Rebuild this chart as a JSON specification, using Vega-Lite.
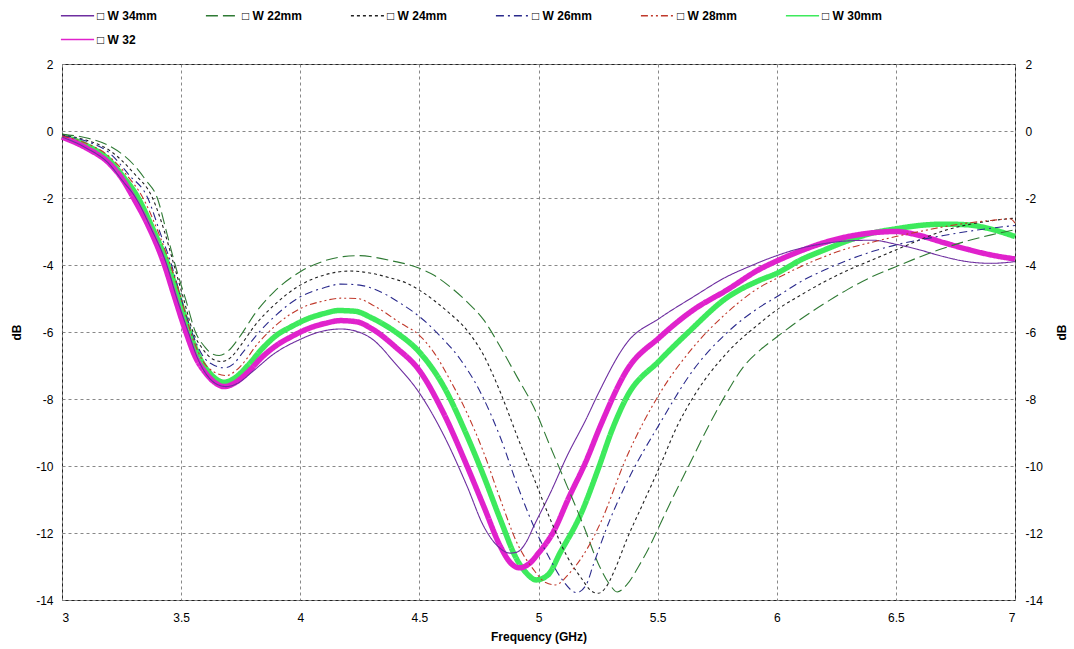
{
"$schema": "https://vega.github.io/schema/vega-lite/v6.json",
"width": 953, "height": 536,
"autosize": {"type": "none"},
"padding": {"left": 62, "top": 64, "right": 59, "bottom": 49},
"background": "white",
"config": {"view": {"stroke": "#222", "strokeWidth": 1}, "font": "Liberation Sans"},
"datasets": {"curves": [
{"series":"W 34mm","freq":3.0,"dB":-0.18},{"series":"W 34mm","freq":3.1,"dB":-0.5},{"series":"W 34mm","freq":3.2,"dB":-1.0},{"series":"W 34mm","freq":3.25,"dB":-1.45},{"series":"W 34mm","freq":3.31,"dB":-2.0},{"series":"W 34mm","freq":3.37,"dB":-2.85},{"series":"W 34mm","freq":3.44,"dB":-4.0},{"series":"W 34mm","freq":3.48,"dB":-4.95},{"series":"W 34mm","freq":3.53,"dB":-6.0},{"series":"W 34mm","freq":3.57,"dB":-6.8},{"series":"W 34mm","freq":3.61,"dB":-7.3},{"series":"W 34mm","freq":3.65,"dB":-7.56},{"series":"W 34mm","freq":3.69,"dB":-7.63},{"series":"W 34mm","freq":3.74,"dB":-7.52},{"series":"W 34mm","freq":3.8,"dB":-7.18},{"series":"W 34mm","freq":3.89,"dB":-6.65},{"series":"W 34mm","freq":4.0,"dB":-6.22},{"series":"W 34mm","freq":4.08,"dB":-6.0},{"series":"W 34mm","freq":4.17,"dB":-5.91},{"series":"W 34mm","freq":4.22,"dB":-5.95},{"series":"W 34mm","freq":4.3,"dB":-6.2},{"series":"W 34mm","freq":4.4,"dB":-6.95},{"series":"W 34mm","freq":4.5,"dB":-7.82},{"series":"W 34mm","freq":4.6,"dB":-9.05},{"series":"W 34mm","freq":4.7,"dB":-10.6},{"series":"W 34mm","freq":4.77,"dB":-11.8},{"series":"W 34mm","freq":4.83,"dB":-12.4},{"series":"W 34mm","freq":4.88,"dB":-12.6},{"series":"W 34mm","freq":4.91,"dB":-12.57},{"series":"W 34mm","freq":4.95,"dB":-12.25},{"series":"W 34mm","freq":4.98,"dB":-11.8},{"series":"W 34mm","freq":5.05,"dB":-10.8},{"series":"W 34mm","freq":5.12,"dB":-9.7},{"series":"W 34mm","freq":5.2,"dB":-8.6},{"series":"W 34mm","freq":5.25,"dB":-7.85},{"series":"W 34mm","freq":5.37,"dB":-6.33},{"series":"W 34mm","freq":5.51,"dB":-5.58},{"series":"W 34mm","freq":5.65,"dB":-4.95},{"series":"W 34mm","freq":5.79,"dB":-4.35},{"series":"W 34mm","freq":5.88,"dB":-4.06},{"series":"W 34mm","freq":6.0,"dB":-3.72},{"series":"W 34mm","freq":6.1,"dB":-3.5},{"series":"W 34mm","freq":6.2,"dB":-3.36},{"series":"W 34mm","freq":6.3,"dB":-3.28},{"series":"W 34mm","freq":6.4,"dB":-3.26},{"series":"W 34mm","freq":6.5,"dB":-3.38},{"series":"W 34mm","freq":6.6,"dB":-3.55},{"series":"W 34mm","freq":6.7,"dB":-3.75},{"series":"W 34mm","freq":6.8,"dB":-3.9},{"series":"W 34mm","freq":6.9,"dB":-3.95},{"series":"W 34mm","freq":7.0,"dB":-3.9},
{"series":"W 22mm","freq":3.0,"dB":-0.1},{"series":"W 22mm","freq":3.1,"dB":-0.2},{"series":"W 22mm","freq":3.2,"dB":-0.45},{"series":"W 22mm","freq":3.3,"dB":-1.0},{"series":"W 22mm","freq":3.35,"dB":-1.45},{"series":"W 22mm","freq":3.4,"dB":-2.0},{"series":"W 22mm","freq":3.44,"dB":-3.05},{"series":"W 22mm","freq":3.475,"dB":-4.0},{"series":"W 22mm","freq":3.52,"dB":-5.05},{"series":"W 22mm","freq":3.56,"dB":-6.0},{"series":"W 22mm","freq":3.6,"dB":-6.45},{"series":"W 22mm","freq":3.63,"dB":-6.65},{"series":"W 22mm","freq":3.66,"dB":-6.7},{"series":"W 22mm","freq":3.7,"dB":-6.55},{"series":"W 22mm","freq":3.75,"dB":-6.1},{"series":"W 22mm","freq":3.81,"dB":-5.45},{"series":"W 22mm","freq":3.89,"dB":-4.8},{"series":"W 22mm","freq":4.0,"dB":-4.2},{"series":"W 22mm","freq":4.1,"dB":-3.88},{"series":"W 22mm","freq":4.18,"dB":-3.75},{"series":"W 22mm","freq":4.25,"dB":-3.72},{"series":"W 22mm","freq":4.32,"dB":-3.78},{"series":"W 22mm","freq":4.4,"dB":-3.9},{"series":"W 22mm","freq":4.45,"dB":-3.98},{"series":"W 22mm","freq":4.5,"dB":-4.1},{"series":"W 22mm","freq":4.56,"dB":-4.3},{"series":"W 22mm","freq":4.62,"dB":-4.6},{"series":"W 22mm","freq":4.7,"dB":-5.1},{"series":"W 22mm","freq":4.77,"dB":-5.64},{"series":"W 22mm","freq":4.84,"dB":-6.45},{"series":"W 22mm","freq":4.91,"dB":-7.34},{"series":"W 22mm","freq":4.98,"dB":-8.24},{"series":"W 22mm","freq":5.05,"dB":-9.43},{"series":"W 22mm","freq":5.12,"dB":-10.6},{"series":"W 22mm","freq":5.19,"dB":-11.8},{"series":"W 22mm","freq":5.25,"dB":-12.9},{"series":"W 22mm","freq":5.3,"dB":-13.55},{"series":"W 22mm","freq":5.33,"dB":-13.76},{"series":"W 22mm","freq":5.37,"dB":-13.55},{"series":"W 22mm","freq":5.42,"dB":-13.0},{"series":"W 22mm","freq":5.47,"dB":-12.35},{"series":"W 22mm","freq":5.5,"dB":-11.9},{"series":"W 22mm","freq":5.56,"dB":-11.0},{"series":"W 22mm","freq":5.63,"dB":-10.0},{"series":"W 22mm","freq":5.72,"dB":-8.72},{"series":"W 22mm","freq":5.79,"dB":-7.82},{"series":"W 22mm","freq":5.86,"dB":-7.04},{"series":"W 22mm","freq":5.93,"dB":-6.54},{"series":"W 22mm","freq":6.0,"dB":-6.15},{"series":"W 22mm","freq":6.1,"dB":-5.62},{"series":"W 22mm","freq":6.2,"dB":-5.15},{"series":"W 22mm","freq":6.3,"dB":-4.72},{"series":"W 22mm","freq":6.4,"dB":-4.35},{"series":"W 22mm","freq":6.5,"dB":-4.05},{"series":"W 22mm","freq":6.6,"dB":-3.76},{"series":"W 22mm","freq":6.7,"dB":-3.5},{"series":"W 22mm","freq":6.8,"dB":-3.28},{"series":"W 22mm","freq":6.9,"dB":-3.1},{"series":"W 22mm","freq":7.0,"dB":-2.95},
{"series":"W 24mm","freq":3.0,"dB":-0.12},{"series":"W 24mm","freq":3.1,"dB":-0.27},{"series":"W 24mm","freq":3.2,"dB":-0.58},{"series":"W 24mm","freq":3.3,"dB":-1.25},{"series":"W 24mm","freq":3.38,"dB":-2.0},{"series":"W 24mm","freq":3.43,"dB":-3.0},{"series":"W 24mm","freq":3.47,"dB":-4.0},{"series":"W 24mm","freq":3.51,"dB":-5.0},{"series":"W 24mm","freq":3.55,"dB":-6.0},{"series":"W 24mm","freq":3.59,"dB":-6.5},{"series":"W 24mm","freq":3.63,"dB":-6.8},{"series":"W 24mm","freq":3.67,"dB":-6.88},{"series":"W 24mm","freq":3.71,"dB":-6.75},{"series":"W 24mm","freq":3.75,"dB":-6.4},{"series":"W 24mm","freq":3.81,"dB":-5.8},{"series":"W 24mm","freq":3.89,"dB":-5.2},{"series":"W 24mm","freq":4.0,"dB":-4.6},{"series":"W 24mm","freq":4.1,"dB":-4.3},{"series":"W 24mm","freq":4.21,"dB":-4.18},{"series":"W 24mm","freq":4.3,"dB":-4.25},{"series":"W 24mm","freq":4.38,"dB":-4.39},{"series":"W 24mm","freq":4.45,"dB":-4.55},{"series":"W 24mm","freq":4.5,"dB":-4.75},{"series":"W 24mm","freq":4.56,"dB":-5.05},{"series":"W 24mm","freq":4.62,"dB":-5.4},{"series":"W 24mm","freq":4.7,"dB":-5.95},{"series":"W 24mm","freq":4.77,"dB":-6.7},{"series":"W 24mm","freq":4.84,"dB":-7.8},{"series":"W 24mm","freq":4.91,"dB":-9.1},{"series":"W 24mm","freq":4.98,"dB":-10.35},{"series":"W 24mm","freq":5.05,"dB":-11.6},{"series":"W 24mm","freq":5.12,"dB":-12.7},{"series":"W 24mm","freq":5.18,"dB":-13.35},{"series":"W 24mm","freq":5.22,"dB":-13.72},{"series":"W 24mm","freq":5.25,"dB":-13.8},{"series":"W 24mm","freq":5.28,"dB":-13.65},{"series":"W 24mm","freq":5.32,"dB":-13.1},{"series":"W 24mm","freq":5.37,"dB":-12.2},{"series":"W 24mm","freq":5.44,"dB":-11.1},{"series":"W 24mm","freq":5.51,"dB":-10.0},{"series":"W 24mm","freq":5.58,"dB":-8.84},{"series":"W 24mm","freq":5.65,"dB":-7.94},{"series":"W 24mm","freq":5.79,"dB":-6.63},{"series":"W 24mm","freq":5.93,"dB":-5.73},{"series":"W 24mm","freq":6.0,"dB":-5.34},{"series":"W 24mm","freq":6.1,"dB":-4.9},{"series":"W 24mm","freq":6.2,"dB":-4.5},{"series":"W 24mm","freq":6.3,"dB":-4.15},{"series":"W 24mm","freq":6.4,"dB":-3.85},{"series":"W 24mm","freq":6.5,"dB":-3.55},{"series":"W 24mm","freq":6.6,"dB":-3.25},{"series":"W 24mm","freq":6.7,"dB":-2.98},{"series":"W 24mm","freq":6.8,"dB":-2.8},{"series":"W 24mm","freq":6.9,"dB":-2.68},{"series":"W 24mm","freq":7.0,"dB":-2.6},
{"series":"W 26mm","freq":3.0,"dB":-0.14},{"series":"W 26mm","freq":3.1,"dB":-0.3},{"series":"W 26mm","freq":3.2,"dB":-0.66},{"series":"W 26mm","freq":3.28,"dB":-1.3},{"series":"W 26mm","freq":3.36,"dB":-2.0},{"series":"W 26mm","freq":3.41,"dB":-3.0},{"series":"W 26mm","freq":3.46,"dB":-4.0},{"series":"W 26mm","freq":3.5,"dB":-5.0},{"series":"W 26mm","freq":3.545,"dB":-6.0},{"series":"W 26mm","freq":3.59,"dB":-6.7},{"series":"W 26mm","freq":3.64,"dB":-7.0},{"series":"W 26mm","freq":3.68,"dB":-7.07},{"series":"W 26mm","freq":3.72,"dB":-6.95},{"series":"W 26mm","freq":3.76,"dB":-6.6},{"series":"W 26mm","freq":3.81,"dB":-6.15},{"series":"W 26mm","freq":3.89,"dB":-5.55},{"series":"W 26mm","freq":4.0,"dB":-4.95},{"series":"W 26mm","freq":4.1,"dB":-4.68},{"series":"W 26mm","freq":4.17,"dB":-4.57},{"series":"W 26mm","freq":4.25,"dB":-4.6},{"series":"W 26mm","freq":4.31,"dB":-4.72},{"series":"W 26mm","freq":4.42,"dB":-5.14},{"series":"W 26mm","freq":4.5,"dB":-5.54},{"series":"W 26mm","freq":4.59,"dB":-6.14},{"series":"W 26mm","freq":4.67,"dB":-6.8},{"series":"W 26mm","freq":4.76,"dB":-7.85},{"series":"W 26mm","freq":4.84,"dB":-9.15},{"series":"W 26mm","freq":4.91,"dB":-10.55},{"series":"W 26mm","freq":4.98,"dB":-11.8},{"series":"W 26mm","freq":5.05,"dB":-12.8},{"series":"W 26mm","freq":5.1,"dB":-13.4},{"series":"W 26mm","freq":5.16,"dB":-13.78},{"series":"W 26mm","freq":5.2,"dB":-13.55},{"series":"W 26mm","freq":5.23,"dB":-12.95},{"series":"W 26mm","freq":5.3,"dB":-11.6},{"series":"W 26mm","freq":5.37,"dB":-10.5},{"series":"W 26mm","freq":5.51,"dB":-8.72},{"series":"W 26mm","freq":5.65,"dB":-7.13},{"series":"W 26mm","freq":5.79,"dB":-6.03},{"series":"W 26mm","freq":5.93,"dB":-5.25},{"series":"W 26mm","freq":6.0,"dB":-4.95},{"series":"W 26mm","freq":6.1,"dB":-4.5},{"series":"W 26mm","freq":6.2,"dB":-4.15},{"series":"W 26mm","freq":6.3,"dB":-3.85},{"series":"W 26mm","freq":6.4,"dB":-3.6},{"series":"W 26mm","freq":6.5,"dB":-3.4},{"series":"W 26mm","freq":6.6,"dB":-3.25},{"series":"W 26mm","freq":6.7,"dB":-3.12},{"series":"W 26mm","freq":6.8,"dB":-3.0},{"series":"W 26mm","freq":6.9,"dB":-2.9},{"series":"W 26mm","freq":7.0,"dB":-2.82},
{"series":"W 28mm","freq":3.0,"dB":-0.15},{"series":"W 28mm","freq":3.1,"dB":-0.36},{"series":"W 28mm","freq":3.2,"dB":-0.77},{"series":"W 28mm","freq":3.27,"dB":-1.3},{"series":"W 28mm","freq":3.34,"dB":-2.0},{"series":"W 28mm","freq":3.4,"dB":-2.95},{"series":"W 28mm","freq":3.455,"dB":-4.0},{"series":"W 28mm","freq":3.5,"dB":-5.0},{"series":"W 28mm","freq":3.54,"dB":-6.0},{"series":"W 28mm","freq":3.59,"dB":-6.85},{"series":"W 28mm","freq":3.64,"dB":-7.2},{"series":"W 28mm","freq":3.69,"dB":-7.3},{"series":"W 28mm","freq":3.73,"dB":-7.15},{"series":"W 28mm","freq":3.77,"dB":-6.85},{"series":"W 28mm","freq":3.81,"dB":-6.45},{"series":"W 28mm","freq":3.89,"dB":-5.85},{"series":"W 28mm","freq":4.0,"dB":-5.3},{"series":"W 28mm","freq":4.1,"dB":-5.07},{"series":"W 28mm","freq":4.17,"dB":-4.99},{"series":"W 28mm","freq":4.24,"dB":-5.0},{"series":"W 28mm","freq":4.31,"dB":-5.22},{"series":"W 28mm","freq":4.42,"dB":-5.73},{"series":"W 28mm","freq":4.5,"dB":-6.1},{"series":"W 28mm","freq":4.56,"dB":-6.6},{"series":"W 28mm","freq":4.63,"dB":-7.45},{"series":"W 28mm","freq":4.7,"dB":-8.42},{"series":"W 28mm","freq":4.77,"dB":-9.6},{"series":"W 28mm","freq":4.84,"dB":-11.0},{"series":"W 28mm","freq":4.91,"dB":-12.3},{"series":"W 28mm","freq":4.98,"dB":-13.1},{"series":"W 28mm","freq":5.03,"dB":-13.48},{"series":"W 28mm","freq":5.07,"dB":-13.55},{"series":"W 28mm","freq":5.13,"dB":-13.2},{"series":"W 28mm","freq":5.21,"dB":-12.4},{"series":"W 28mm","freq":5.26,"dB":-11.7},{"series":"W 28mm","freq":5.37,"dB":-9.73},{"series":"W 28mm","freq":5.51,"dB":-7.82},{"series":"W 28mm","freq":5.65,"dB":-6.45},{"series":"W 28mm","freq":5.79,"dB":-5.43},{"series":"W 28mm","freq":5.93,"dB":-4.66},{"series":"W 28mm","freq":6.0,"dB":-4.4},{"series":"W 28mm","freq":6.1,"dB":-4.05},{"series":"W 28mm","freq":6.2,"dB":-3.75},{"series":"W 28mm","freq":6.3,"dB":-3.5},{"series":"W 28mm","freq":6.4,"dB":-3.32},{"series":"W 28mm","freq":6.5,"dB":-3.15},{"series":"W 28mm","freq":6.6,"dB":-3.0},{"series":"W 28mm","freq":6.7,"dB":-2.86},{"series":"W 28mm","freq":6.8,"dB":-2.75},{"series":"W 28mm","freq":6.9,"dB":-2.67},{"series":"W 28mm","freq":6.98,"dB":-2.62},{"series":"W 28mm","freq":7.0,"dB":-2.75},
{"series":"W 30mm","freq":3.0,"dB":-0.15},{"series":"W 30mm","freq":3.1,"dB":-0.42},{"series":"W 30mm","freq":3.2,"dB":-0.88},{"series":"W 30mm","freq":3.25,"dB":-1.3},{"series":"W 30mm","freq":3.32,"dB":-2.0},{"series":"W 30mm","freq":3.38,"dB":-2.9},{"series":"W 30mm","freq":3.445,"dB":-4.0},{"series":"W 30mm","freq":3.49,"dB":-4.95},{"series":"W 30mm","freq":3.535,"dB":-6.0},{"series":"W 30mm","freq":3.58,"dB":-6.8},{"series":"W 30mm","freq":3.63,"dB":-7.3},{"series":"W 30mm","freq":3.68,"dB":-7.5},{"series":"W 30mm","freq":3.73,"dB":-7.35},{"series":"W 30mm","freq":3.78,"dB":-7.0},{"series":"W 30mm","freq":3.84,"dB":-6.5},{"series":"W 30mm","freq":3.9,"dB":-6.1},{"series":"W 30mm","freq":3.96,"dB":-5.85},{"series":"W 30mm","freq":4.04,"dB":-5.58},{"series":"W 30mm","freq":4.1,"dB":-5.45},{"series":"W 30mm","freq":4.16,"dB":-5.36},{"series":"W 30mm","freq":4.23,"dB":-5.38},{"series":"W 30mm","freq":4.3,"dB":-5.58},{"series":"W 30mm","freq":4.4,"dB":-6.0},{"series":"W 30mm","freq":4.5,"dB":-6.6},{"series":"W 30mm","freq":4.6,"dB":-7.6},{"series":"W 30mm","freq":4.7,"dB":-9.1},{"series":"W 30mm","freq":4.77,"dB":-10.3},{"series":"W 30mm","freq":4.84,"dB":-11.6},{"series":"W 30mm","freq":4.91,"dB":-12.8},{"series":"W 30mm","freq":4.95,"dB":-13.2},{"series":"W 30mm","freq":4.99,"dB":-13.4},{"series":"W 30mm","freq":5.04,"dB":-13.25},{"series":"W 30mm","freq":5.09,"dB":-12.6},{"series":"W 30mm","freq":5.18,"dB":-11.4},{"series":"W 30mm","freq":5.25,"dB":-10.1},{"series":"W 30mm","freq":5.31,"dB":-8.9},{"series":"W 30mm","freq":5.37,"dB":-7.95},{"series":"W 30mm","freq":5.51,"dB":-6.84},{"series":"W 30mm","freq":5.63,"dB":-6.0},{"series":"W 30mm","freq":5.79,"dB":-4.98},{"series":"W 30mm","freq":5.93,"dB":-4.45},{"series":"W 30mm","freq":6.0,"dB":-4.25},{"series":"W 30mm","freq":6.1,"dB":-3.85},{"series":"W 30mm","freq":6.2,"dB":-3.55},{"series":"W 30mm","freq":6.3,"dB":-3.27},{"series":"W 30mm","freq":6.4,"dB":-3.05},{"series":"W 30mm","freq":6.5,"dB":-2.92},{"series":"W 30mm","freq":6.6,"dB":-2.82},{"series":"W 30mm","freq":6.7,"dB":-2.78},{"series":"W 30mm","freq":6.8,"dB":-2.8},{"series":"W 30mm","freq":6.9,"dB":-2.93},{"series":"W 30mm","freq":7.0,"dB":-3.15},
{"series":"W 32","freq":3.0,"dB":-0.18},{"series":"W 32","freq":3.1,"dB":-0.5},{"series":"W 32","freq":3.2,"dB":-0.98},{"series":"W 32","freq":3.25,"dB":-1.4},{"series":"W 32","freq":3.3,"dB":-2.0},{"series":"W 32","freq":3.36,"dB":-2.8},{"series":"W 32","freq":3.43,"dB":-4.0},{"series":"W 32","freq":3.47,"dB":-4.9},{"series":"W 32","freq":3.52,"dB":-6.0},{"series":"W 32","freq":3.56,"dB":-6.75},{"series":"W 32","freq":3.6,"dB":-7.2},{"series":"W 32","freq":3.64,"dB":-7.5},{"series":"W 32","freq":3.68,"dB":-7.63},{"series":"W 32","freq":3.73,"dB":-7.5},{"series":"W 32","freq":3.78,"dB":-7.2},{"series":"W 32","freq":3.84,"dB":-6.75},{"series":"W 32","freq":3.9,"dB":-6.4},{"series":"W 32","freq":3.96,"dB":-6.15},{"series":"W 32","freq":4.04,"dB":-5.88},{"series":"W 32","freq":4.1,"dB":-5.75},{"series":"W 32","freq":4.17,"dB":-5.66},{"series":"W 32","freq":4.24,"dB":-5.7},{"series":"W 32","freq":4.3,"dB":-5.9},{"series":"W 32","freq":4.4,"dB":-6.45},{"series":"W 32","freq":4.5,"dB":-7.15},{"series":"W 32","freq":4.6,"dB":-8.4},{"series":"W 32","freq":4.7,"dB":-10.0},{"series":"W 32","freq":4.77,"dB":-11.2},{"series":"W 32","freq":4.84,"dB":-12.4},{"series":"W 32","freq":4.88,"dB":-12.87},{"series":"W 32","freq":4.92,"dB":-13.04},{"series":"W 32","freq":4.96,"dB":-12.92},{"series":"W 32","freq":5.0,"dB":-12.6},{"series":"W 32","freq":5.06,"dB":-12.0},{"series":"W 32","freq":5.13,"dB":-10.9},{"series":"W 32","freq":5.2,"dB":-9.85},{"series":"W 32","freq":5.26,"dB":-8.8},{"series":"W 32","freq":5.37,"dB":-7.15},{"series":"W 32","freq":5.51,"dB":-6.15},{"series":"W 32","freq":5.65,"dB":-5.34},{"series":"W 32","freq":5.79,"dB":-4.75},{"series":"W 32","freq":5.93,"dB":-4.12},{"series":"W 32","freq":6.0,"dB":-3.88},{"series":"W 32","freq":6.1,"dB":-3.58},{"series":"W 32","freq":6.2,"dB":-3.33},{"series":"W 32","freq":6.3,"dB":-3.15},{"series":"W 32","freq":6.4,"dB":-3.04},{"series":"W 32","freq":6.5,"dB":-3.0},{"series":"W 32","freq":6.6,"dB":-3.12},{"series":"W 32","freq":6.7,"dB":-3.33},{"series":"W 32","freq":6.8,"dB":-3.53},{"series":"W 32","freq":6.9,"dB":-3.7},{"series":"W 32","freq":7.0,"dB":-3.82}
]},
"data": {"name": "curves"},
"encoding": {
  "x": {"field": "freq", "type": "quantitative", "scale": {"domain": [3, 7], "nice": false, "zero": false},
    "axis": {"values": [3, 3.5, 4, 4.5, 5, 5.5, 6, 6.5, 7], "labelExpr": "'' + datum.value", "grid": true, "gridDash": [3, 3], "gridColor": "#888", "gridWidth": 1, "ticks": false, "tickSize": 0, "domain": false, "labelPadding": 12, "labelFont": "Liberation Sans", "labelFontSize": 12, "labelColor": "#000", "title": "Frequency (GHz)", "titleFont": "Liberation Sans", "titleFontSize": 12, "titleFontWeight": "bold", "titleColor": "#000", "titlePadding": 8}}
},
"layer": [
  {"transform": [{"filter": "datum.series == 'W 30mm' || datum.series == 'W 32'"}],
   "mark": {"type": "line", "strokeWidth": 5.5, "interpolate": "monotone"},
   "encoding": {
     "y": {"field": "dB", "type": "quantitative", "scale": {"domain": [-14, 2], "nice": false, "zero": false},
       "axis": {"values": [-14, -12, -10, -8, -6, -4, -2, 0, 2], "labelExpr": "'' + datum.value", "grid": true, "gridDash": [3, 3], "gridColor": "#888", "gridWidth": 1, "ticks": false, "tickSize": 0, "domain": false, "labelPadding": 9, "labelFont": "Liberation Sans", "labelFontSize": 12, "labelColor": "#000", "title": "dB", "titleFont": "Liberation Sans", "titleFontSize": 12, "titleFontWeight": "bold", "titleColor": "#000", "titlePadding": 12}},
     "color": {"field": "series", "type": "nominal",
       "scale": {"domain": ["W 34mm", "W 22mm", "W 24mm", "W 26mm", "W 28mm", "W 30mm", "W 32"], "range": ["#6e2ea0", "#2f7a34", "#222222", "#2a2a8c", "#c0392b", "#3dea5c", "#e022cc"]},
       "legend": {"orient": "none", "legendX": -2, "legendY": -66, "direction": "horizontal", "columns": 6, "title": null, "symbolType": "stroke", "symbolSize": 1100, "symbolStrokeWidth": 1.5, "labelFont": "Liberation Sans", "labelFontSize": 12, "labelFontWeight": "bold", "labelColor": "#000", "labelExpr": "'□ ' + datum.label", "columnPadding": 45, "rowPadding": -2, "gridAlign": "all", "labelOffset": 2}},
     "strokeDash": {"field": "series", "type": "nominal",
       "scale": {"domain": ["W 34mm", "W 22mm", "W 24mm", "W 26mm", "W 28mm", "W 30mm", "W 32"], "range": [[1, 0], [12, 5], [3, 3], [8, 4, 2, 4], [7, 3, 2, 3, 2, 3], [1, 0], [1, 0]]},
       "legend": {"orient": "none", "legendX": -2, "legendY": -66, "direction": "horizontal", "columns": 6, "title": null, "symbolType": "stroke", "symbolSize": 1100, "symbolStrokeWidth": 1.5, "labelFont": "Liberation Sans", "labelFontSize": 12, "labelFontWeight": "bold", "labelColor": "#000", "labelExpr": "'□ ' + datum.label", "columnPadding": 45, "rowPadding": -2, "gridAlign": "all", "labelOffset": 2}}
   }},
  {"transform": [{"filter": "datum.series != 'W 30mm' && datum.series != 'W 32'"}],
   "mark": {"type": "line", "strokeWidth": 1.1, "interpolate": "monotone"},
   "encoding": {
     "y": {"field": "dB", "type": "quantitative", "axis": null},
     "color": {"field": "series", "type": "nominal"},
     "strokeDash": {"field": "series", "type": "nominal"}
   }},
  {"mark": {"type": "point", "opacity": 0},
   "encoding": {
     "y": {"field": "dB", "type": "quantitative",
       "axis": {"orient": "right", "values": [-14, -12, -10, -8, -6, -4, -2, 0, 2], "labelExpr": "'' + datum.value", "grid": false, "ticks": false, "tickSize": 0, "domain": false, "labelPadding": 10, "labelFont": "Liberation Sans", "labelFontSize": 12, "labelColor": "#000", "title": "dB", "titleAngle": 270, "titleFont": "Liberation Sans", "titleFontSize": 12, "titleFontWeight": "bold", "titleColor": "#000", "titlePadding": 26}}
   }}
],
"resolve": {"axis": {"y": "independent"}}
}
